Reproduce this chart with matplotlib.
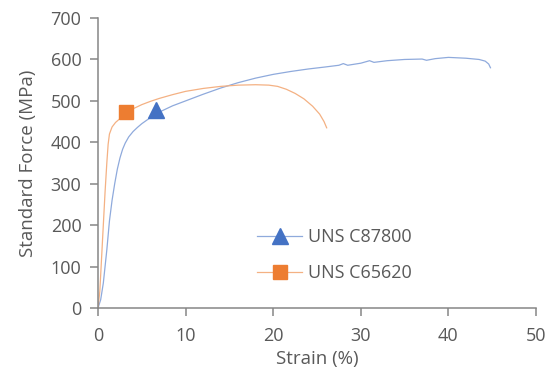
import matplotlib.pyplot as plt

plt.rcParams['font.family'] = ['Open Sans', 'DejaVu Sans']

# UNS C87800 curve (strain %, stress MPa)
c87800_strain = [0, 0.3, 0.6, 1.0, 1.3, 1.6, 1.9, 2.2, 2.5, 2.8, 3.1, 3.5, 4.0, 4.5, 5.0, 6.0, 7.0,
                 8.5, 10, 12, 14, 16, 18, 20, 22, 24, 26, 27.5, 28, 28.5, 30, 31, 31.5,
                 33, 35, 37, 37.5, 38.5, 40, 42, 43.5, 44.2, 44.6, 44.8]
c87800_stress = [0, 20, 60, 140, 210, 260, 300, 335, 362, 383, 398, 413, 426, 436, 445, 460, 473,
                 488, 500, 516, 531, 544, 555, 564, 571, 577, 582, 586, 590, 586, 591, 597, 593,
                 597, 600, 601, 598, 602, 605, 603, 600, 596, 589, 580]

# UNS C65620 curve
c65620_strain = [0, 0.2, 0.4, 0.6, 0.8, 1.0, 1.15, 1.3, 1.6, 2.0, 2.6, 3.2, 4, 5, 6, 7,
                 8.5, 10, 12, 14, 16, 18, 19.5, 20.5, 21.5, 22.5, 23.5, 24.5, 25.3, 25.8, 26.1]
c65620_stress = [0, 40, 120, 200, 280, 350, 395, 420, 437, 448, 459, 470, 481, 491, 499, 506,
                 515, 523, 530, 535, 538, 539, 538, 535, 528, 518, 505, 487, 468, 450, 435]

# marker positions
c87800_mark = (6.6, 478)
c65620_mark = (3.2, 474)

txt = '#595959'

fig = plt.figure(figsize=(5.54, 3.76), dpi=100)
ax = fig.add_axes([0.177, 0.181, 0.7905, 0.771])

ax.plot(c87800_strain, c87800_stress, color='#8FAADC', lw=0.9)
ax.plot(c65620_strain, c65620_stress, color='#F4B183', lw=0.9)
ax.plot(*c87800_mark, marker='^', color='#4472C4', ms=11, ls='none')
ax.plot(*c65620_mark, marker='s', color='#ED7D31', ms=9.5, ls='none')

# legend handles
h1, = ax.plot([], [], color='#8FAADC', lw=0.9, marker='^', mfc='#4472C4', mec='#4472C4', ms=11)
h2, = ax.plot([], [], color='#F4B183', lw=0.9, marker='s', mfc='#ED7D31', mec='#ED7D31', ms=9.5)
ax.legend([h1, h2], ['UNS C87800', 'UNS C65620'], frameon=False, fontsize=13,
          loc='upper left', bbox_to_anchor=(0.464, 0.393), bbox_transform=fig.transFigure,
          handlelength=2.5, handletextpad=0.3, labelspacing=1.0, borderpad=0,
          borderaxespad=0, labelcolor=txt)

ax.set_xlim(0, 50)
ax.set_ylim(0, 700)
ax.set_xticks(range(0, 51, 10))
ax.set_yticks(range(0, 701, 100))
for s in ['top', 'right']:
    ax.spines[s].set_visible(False)
for s in ['left', 'bottom']:
    ax.spines[s].set_color('#868686')
    ax.spines[s].set_linewidth(1.1)
ax.tick_params(colors='#868686', labelcolor=txt, labelsize=13, length=6, width=1.1)
ax.tick_params(axis='y', pad=6)
ax.tick_params(axis='x', pad=8)
ax.set_xlabel('Strain (%)', fontsize=13.5, color=txt, labelpad=3)
ax.set_ylabel('Standard Force (MPa)', fontsize=13.5, color=txt, labelpad=10)

fig.savefig('out.png', dpi=100)
